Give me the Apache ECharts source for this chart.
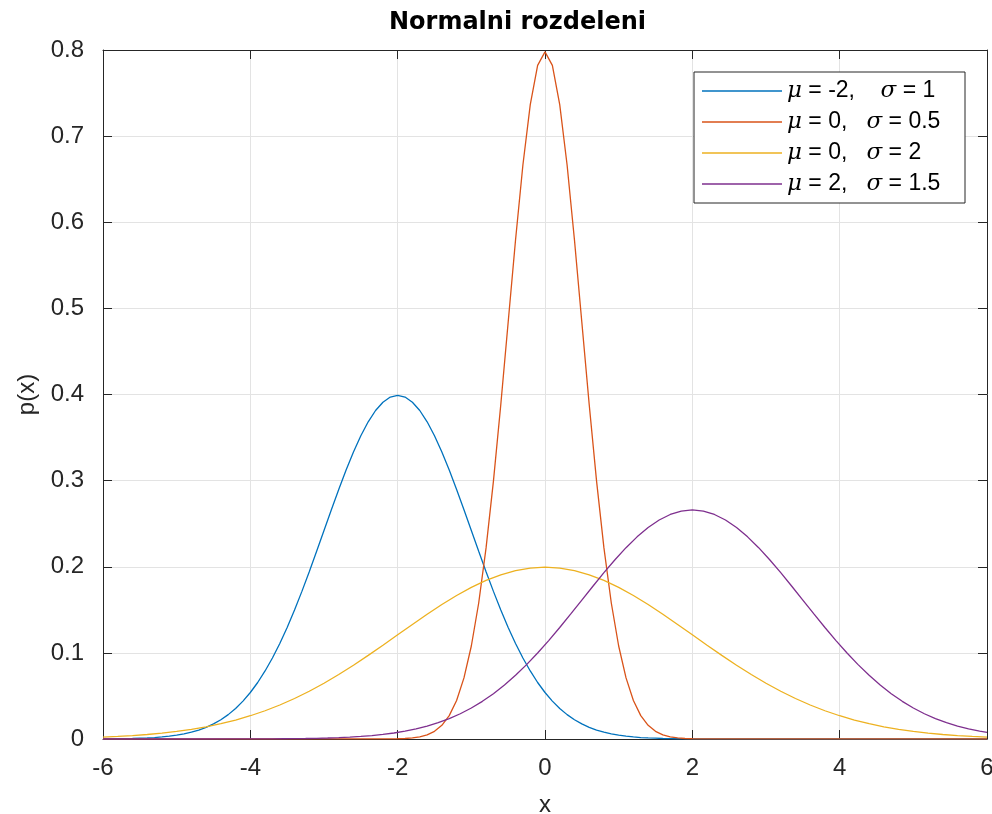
<!DOCTYPE html>
<html>
<head>
<meta charset="utf-8">
<title>Normalni rozdeleni</title>
<script src="https://cdn.jsdelivr.net/npm/echarts@6/dist/echarts.min.js"></script>
<style>
  html, body { margin: 0; padding: 0; background: #ffffff; }
  #main { width: 992px; height: 814px; }
</style>
</head>
<body>
<div id="main"></div>
<script>
// Axis ticks
const xTicks = [-6, -4, -2, 0, 2, 4, 6];
const yTicks = [0, 0.1, 0.2, 0.3, 0.4, 0.5, 0.6, 0.7, 0.8];

// Legend entries, one per curve
const seriesNames = [
  'μ = -2,    σ = 1',
  'μ = 0,   σ = 0.5',
  'μ = 0,   σ = 2',
  'μ = 2,   σ = 1.5'
];

// Density curves as [x, p(x)] pairs
const curveMuM2S1 = [
  [-6.0, 0.0001], [-5.9, 0.0002], [-5.8, 0.0003], [-5.7, 0.0004], [-5.6, 0.0006],
  [-5.5, 0.0009], [-5.4, 0.0012], [-5.3, 0.0017], [-5.2, 0.0024], [-5.1, 0.0033],
  [-5.0, 0.0044], [-4.9, 0.0060], [-4.8, 0.0079], [-4.7, 0.0104], [-4.6, 0.0136],
  [-4.5, 0.0175], [-4.4, 0.0224], [-4.3, 0.0283], [-4.2, 0.0355], [-4.1, 0.0440],
  [-4.0, 0.0540], [-3.9, 0.0656], [-3.8, 0.0790], [-3.7, 0.0940], [-3.6, 0.1109],
  [-3.5, 0.1295], [-3.4, 0.1497], [-3.3, 0.1714], [-3.2, 0.1942], [-3.1, 0.2179],
  [-3.0, 0.2420], [-2.9, 0.2661], [-2.8, 0.2897], [-2.7, 0.3123], [-2.6, 0.3332],
  [-2.5, 0.3521], [-2.4, 0.3683], [-2.3, 0.3814], [-2.2, 0.3910], [-2.1, 0.3970],
  [-2.0, 0.3989], [-1.9, 0.3970], [-1.8, 0.3910], [-1.7, 0.3814], [-1.6, 0.3683],
  [-1.5, 0.3521], [-1.4, 0.3332], [-1.3, 0.3123], [-1.2, 0.2897], [-1.1, 0.2661],
  [-1.0, 0.2420], [-0.9, 0.2179], [-0.8, 0.1942], [-0.7, 0.1714], [-0.6, 0.1497],
  [-0.5, 0.1295], [-0.4, 0.1109], [-0.3, 0.0940], [-0.2, 0.0790], [-0.1, 0.0656],
  [0.0, 0.0540], [0.1, 0.0440], [0.2, 0.0355], [0.3, 0.0283], [0.4, 0.0224],
  [0.5, 0.0175], [0.6, 0.0136], [0.7, 0.0104], [0.8, 0.0079], [0.9, 0.0060],
  [1.0, 0.0044], [1.1, 0.0033], [1.2, 0.0024], [1.3, 0.0017], [1.4, 0.0012],
  [1.5, 0.0009], [1.6, 0.0006], [1.7, 0.0004], [1.8, 0.0003], [1.9, 0.0002],
  [2.0, 0.0001], [6.0, 0]
];

const curveMu0S05 = [
  [-6.0, 0], [-2.2, 0.00005], [-2.1, 0.00012], [-2.0, 0.00027], [-1.9, 0.00058],
  [-1.8, 0.00122], [-1.7, 0.00246], [-1.6, 0.00477], [-1.5, 0.00886], [-1.4, 0.01583],
  [-1.3, 0.02717], [-1.2, 0.04479], [-1.1, 0.07095], [-1.0, 0.10798], [-0.9, 0.15790],
  [-0.8, 0.22184], [-0.7, 0.29946], [-0.6, 0.38837], [-0.5, 0.48394], [-0.4, 0.57938],
  [-0.3, 0.66645], [-0.2, 0.73654], [-0.1, 0.78209], [0.0, 0.79788], [0.1, 0.78209],
  [0.2, 0.73654], [0.3, 0.66645], [0.4, 0.57938], [0.5, 0.48394], [0.6, 0.38837],
  [0.7, 0.29946], [0.8, 0.22184], [0.9, 0.15790], [1.0, 0.10798], [1.1, 0.07095],
  [1.2, 0.04479], [1.3, 0.02717], [1.4, 0.01583], [1.5, 0.00886], [1.6, 0.00477],
  [1.7, 0.00246], [1.8, 0.00122], [1.9, 0.00058], [2.0, 0.00027], [2.1, 0.00012],
  [2.2, 0.00005], [6.0, 0]
];

const curveMu0S2 = [
  [-6.0, 0.00222], [-5.8, 0.00298], [-5.6, 0.00396], [-5.4, 0.00521], [-5.2, 0.00679],
  [-5.0, 0.00876], [-4.8, 0.01120], [-4.6, 0.01416], [-4.4, 0.01774], [-4.2, 0.02199],
  [-4.0, 0.02700], [-3.8, 0.03281], [-3.6, 0.03947], [-3.4, 0.04702], [-3.2, 0.05546],
  [-3.0, 0.06476], [-2.8, 0.07486], [-2.6, 0.08568], [-2.4, 0.09709], [-2.2, 0.10893],
  [-2.0, 0.12099], [-1.8, 0.13304], [-1.6, 0.14485], [-1.4, 0.15613], [-1.2, 0.16661],
  [-1.0, 0.17603], [-0.8, 0.18414], [-0.6, 0.19069], [-0.4, 0.19552], [-0.2, 0.19848],
  [0.0, 0.19947], [0.2, 0.19848], [0.4, 0.19552], [0.6, 0.19069], [0.8, 0.18414],
  [1.0, 0.17603], [1.2, 0.16661], [1.4, 0.15613], [1.6, 0.14485], [1.8, 0.13304],
  [2.0, 0.12099], [2.2, 0.10893], [2.4, 0.09709], [2.6, 0.08568], [2.8, 0.07486],
  [3.0, 0.06476], [3.2, 0.05546], [3.4, 0.04702], [3.6, 0.03947], [3.8, 0.03281],
  [4.0, 0.02700], [4.2, 0.02199], [4.4, 0.01774], [4.6, 0.01416], [4.8, 0.01120],
  [5.0, 0.00876], [5.2, 0.00679], [5.4, 0.00521], [5.6, 0.00396], [5.8, 0.00298],
  [6.0, 0.00222]
];

const curveMu2S15 = [
  [-6.00, 0], [-4.60, 0.00002], [-4.30, 0.00004], [-4.00, 0.00009], [-3.85, 0.00013],
  [-3.70, 0.00020], [-3.55, 0.00028], [-3.40, 0.00041], [-3.25, 0.00058], [-3.10, 0.00082],
  [-2.95, 0.00115], [-2.80, 0.00159], [-2.65, 0.00218], [-2.50, 0.00296], [-2.35, 0.00397],
  [-2.20, 0.00528], [-2.05, 0.00695], [-1.90, 0.00906], [-1.75, 0.01169], [-1.60, 0.01493],
  [-1.45, 0.01889], [-1.30, 0.02365], [-1.15, 0.02932], [-1.00, 0.03599], [-0.85, 0.04374],
  [-0.70, 0.05263], [-0.55, 0.06270], [-0.40, 0.07395], [-0.25, 0.08635], [-0.10, 0.09982],
  [0.05, 0.11425], [0.20, 0.12946], [0.35, 0.14524], [0.50, 0.16131], [0.65, 0.17739],
  [0.80, 0.19313], [0.95, 0.20817], [1.10, 0.22215], [1.25, 0.23471], [1.40, 0.24551],
  [1.55, 0.25426], [1.70, 0.26070], [1.85, 0.26464], [2.00, 0.26596], [2.15, 0.26464],
  [2.30, 0.26070], [2.45, 0.25426], [2.60, 0.24551], [2.75, 0.23471], [2.90, 0.22215],
  [3.05, 0.20817], [3.20, 0.19313], [3.35, 0.17739], [3.50, 0.16131], [3.65, 0.14524],
  [3.80, 0.12946], [3.95, 0.11425], [4.10, 0.09982], [4.25, 0.08635], [4.40, 0.07395],
  [4.55, 0.06270], [4.70, 0.05263], [4.85, 0.04374], [5.00, 0.03599], [5.15, 0.02932],
  [5.30, 0.02365], [5.45, 0.01889], [5.60, 0.01493], [5.75, 0.01169], [5.90, 0.00906],
  [6.00, 0.00760]
];

const curves = [curveMuM2S1, curveMu0S05, curveMu0S2, curveMu2S15];
const lineColors = ['#0072BD', '#D95319', '#EDB120', '#7E2F8E'];

const axisColor = '#262626';
const gridColor = '#e3e3e3';
const fontFamily = '"Liberation Sans", Arial, Helvetica, sans-serif';

const chart = echarts.init(document.getElementById('main'), null, { renderer: 'canvas' });

function mainXAxis() {
  return {
    type: 'value', min: xTicks[0], max: xTicks[xTicks.length - 1], interval: 2,
    position: 'bottom',
    axisLine: { show: true, onZero: false, lineStyle: { color: axisColor, width: 1 } },
    axisTick: { show: true, inside: true, length: 9, lineStyle: { color: axisColor, width: 1 } },
    axisLabel: { show: true, fontSize: 24, color: axisColor, fontFamily: fontFamily, margin: 17 },
    splitLine: { show: true, lineStyle: { color: gridColor, width: 1 } },
    name: 'x', nameLocation: 'middle', nameGap: 54,
    nameTextStyle: { fontSize: 24, color: axisColor, fontFamily: fontFamily }
  };
}

function mainYAxis() {
  return {
    type: 'value', min: yTicks[0], max: yTicks[yTicks.length - 1], interval: 0.1,
    position: 'left',
    axisLine: { show: true, onZero: false, lineStyle: { color: axisColor, width: 1 } },
    axisTick: { show: true, inside: true, length: 9, lineStyle: { color: axisColor, width: 1 } },
    axisLabel: {
      show: true, fontSize: 24, color: axisColor, fontFamily: fontFamily, margin: 19,
      formatter: v => String(Math.round(v * 10) / 10)
    },
    splitLine: { show: true, lineStyle: { color: gridColor, width: 1 } },
    name: 'p(x)', nameLocation: 'middle', nameGap: 62, nameRotate: 90,
    nameTextStyle: { fontSize: 24, color: axisColor, fontFamily: fontFamily }
  };
}

// Box edges (top and right) with inward ticks and no labels
function boxAxis(pos, min, max, interval) {
  return {
    type: 'value', min: min, max: max, interval: interval, position: pos,
    axisLine: { show: true, onZero: false, lineStyle: { color: axisColor, width: 1 } },
    axisTick: { show: true, inside: true, length: 9, lineStyle: { color: axisColor, width: 1 } },
    axisLabel: { show: false },
    splitLine: { show: false }
  };
}

const option = {
  backgroundColor: '#ffffff',
  animation: false,
  title: {
    text: 'Normalni rozdeleni',
    left: 389, top: 11, padding: 0,
    textStyle: { fontSize: 24, fontWeight: 'bold', color: '#000000', fontFamily: '"DejaVu Sans", sans-serif' }
  },
  grid: {
    left: 103, top: 50, width: 884, height: 689,
    containLabel: false, outerBoundsMode: 'none'
  },
  xAxis: [
    mainXAxis(),
    boxAxis('top', xTicks[0], xTicks[xTicks.length - 1], 2)
  ],
  yAxis: [
    mainYAxis(),
    boxAxis('right', yTicks[0], yTicks[yTicks.length - 1], 0.1)
  ],
  legend: {
    orient: 'vertical',
    left: 694, top: 72,
    padding: [7, 0, 7, 8],
    itemGap: 7,
    itemWidth: 80, itemHeight: 1.5,
    icon: 'rect',
    backgroundColor: '#ffffff',
    borderColor: axisColor, borderWidth: 1,
    data: seriesNames,
    formatter: name => name.replace(/[μσ]/g, ch => '{g|' + ch + '}'),
    textStyle: {
      fontSize: 23, color: '#000000', fontFamily: fontFamily, lineHeight: 24, width: 178,
      rich: {
        g: { fontSize: 23, fontStyle: 'italic', fontFamily: '"DejaVu Serif", "Liberation Serif", serif', color: '#000000' }
      }
    }
  },
  series: curves.map((data, i) => ({
    name: seriesNames[i],
    type: 'line',
    xAxisIndex: 0, yAxisIndex: 0,
    data: data,
    symbol: 'none',
    showSymbol: false,
    smooth: false,
    clip: true,
    lineStyle: { color: lineColors[i], width: 1.3 },
    itemStyle: { color: lineColors[i] },
    emphasis: { disabled: true }
  }))
};

chart.setOption(option);
</script>
</body>
</html>
